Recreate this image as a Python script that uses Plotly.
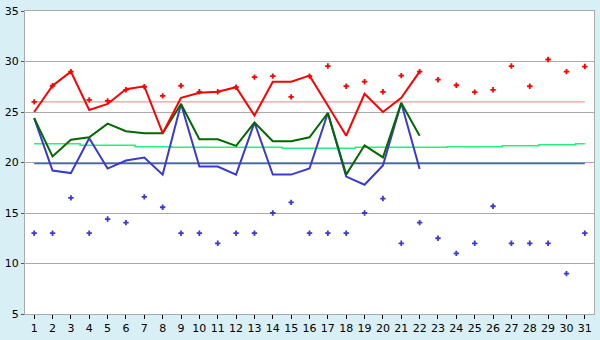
import plotly.graph_objects as go

days = list(range(1, 32))
line_days = list(range(1, 23))

red_line = [25.0, 27.6, 29.0, 25.2, 25.8, 27.25, 27.55, 22.9, 26.4, 26.9, 27.0,
            27.45, 24.65, 28.0, 28.0, 28.6, 25.65, 22.65, 26.8, 25.0, 26.4, 29.0]
green_line = [24.4, 20.6, 22.25, 22.5, 23.85, 23.1, 22.9, 22.9, 25.8, 22.3, 22.3,
              21.65, 23.95, 22.1, 22.1, 22.5, 24.9, 18.8, 21.7, 20.5, 25.9, 22.65]
blue_line = [24.4, 19.2, 18.95, 22.4, 19.4, 20.2, 20.5, 18.8, 25.8, 19.6, 19.6,
             18.8, 23.95, 18.8, 18.8, 19.4, 24.9, 18.6, 17.8, 19.7, 25.9, 19.35]

red_points = [26.0, 27.6, 29.0, 26.2, 26.1, 27.2, 27.5, 26.6, 27.6, 27.0, 27.0,
              27.45, 28.45, 28.55, 26.5, 28.55, 29.55, 27.55, 28.0, 27.0, 28.6, 29.0,
              28.2, 27.65, 26.97, 27.2, 29.55, 27.55, 30.2, 29.0, 29.5]
blue_points = [13.0, 13.0, 16.5, 13.0, 14.4, 14.05, 16.6, 15.57, 13.0, 13.0, 12.0,
               13.0, 13.0, 15.0, 16.05, 13.0, 13.0, 13.0, 15.0, 16.43, 12.0, 14.05,
               12.5, 11.0, 12.0, 15.67, 12.0, 12.0, 12.0, 9.0, 13.0]

red_ref = [26.0] * 31
blue_ref = [19.9] * 31
green_ref = [21.86, 21.86, 21.86, 21.72, 21.72, 21.72, 21.57, 21.57, 21.5, 21.5,
             21.5, 21.5, 21.5, 21.5, 21.4, 21.4, 21.4, 21.4, 21.5, 21.5, 21.5, 21.5,
             21.5, 21.57, 21.57, 21.57, 21.67, 21.67, 21.76, 21.76, 21.85]

y_ticks = [5, 10, 15, 20, 25, 30, 35]

fig = go.Figure()

fig.add_trace(go.Scatter(x=days, y=red_ref, mode="lines",
                         line=dict(color="#f08080", width=1), hoverinfo="skip"))
fig.add_trace(go.Scatter(x=days, y=green_ref, mode="lines",
                         line=dict(color="#22f080", width=1.5, shape="hvh"), hoverinfo="skip"))
fig.add_trace(go.Scatter(x=days, y=blue_ref, mode="lines",
                         line=dict(color="#1e6ee0", width=1.5), hoverinfo="skip"))

fig.add_trace(go.Scatter(x=line_days, y=blue_line, mode="lines",
                         line=dict(color="#3a3ad0", width=2)))
fig.add_trace(go.Scatter(x=line_days, y=green_line, mode="lines",
                         line=dict(color="#006a00", width=2)))
fig.add_trace(go.Scatter(x=line_days, y=red_line, mode="lines",
                         line=dict(color="#ff0000", width=2)))

fig.add_trace(go.Scatter(x=days, y=red_points, mode="markers",
                         marker=dict(symbol="cross", size=4.5, color="#ff0000")))
fig.add_trace(go.Scatter(x=days, y=blue_points, mode="markers",
                         marker=dict(symbol="cross", size=4.5, color="#3a3ad0")))

fig.update_layout(
    width=600, height=340,
    margin=dict(l=20, r=5, t=5, b=20),
    paper_bgcolor="#d9eff6",
    plot_bgcolor="#ffffff",
    showlegend=False,
    font=dict(family="DejaVu Sans", size=11, color="#000000"),
)
fig.update_xaxes(
    range=[0.5, 31.5], tickmode="array", tickvals=days, ticktext=[str(d) for d in days],
    showgrid=False, zeroline=False,
    showline=True, linecolor="#aaaaaa", linewidth=1, mirror=True,
    ticks="outside", ticklen=4, tickcolor="#000000", tickfont=dict(size=11),
)
fig.update_yaxes(
    range=[5, 35], tickmode="array", tickvals=y_ticks,
    showgrid=True, gridcolor="#aaaaaa", gridwidth=1, zeroline=False,
    showline=True, linecolor="#aaaaaa", linewidth=1, mirror=True,
    ticks="outside", ticklen=3, tickcolor="#555555", tickfont=dict(size=11),
    ticklabeloverflow="allow",
)

fig.write_html("out.html")
